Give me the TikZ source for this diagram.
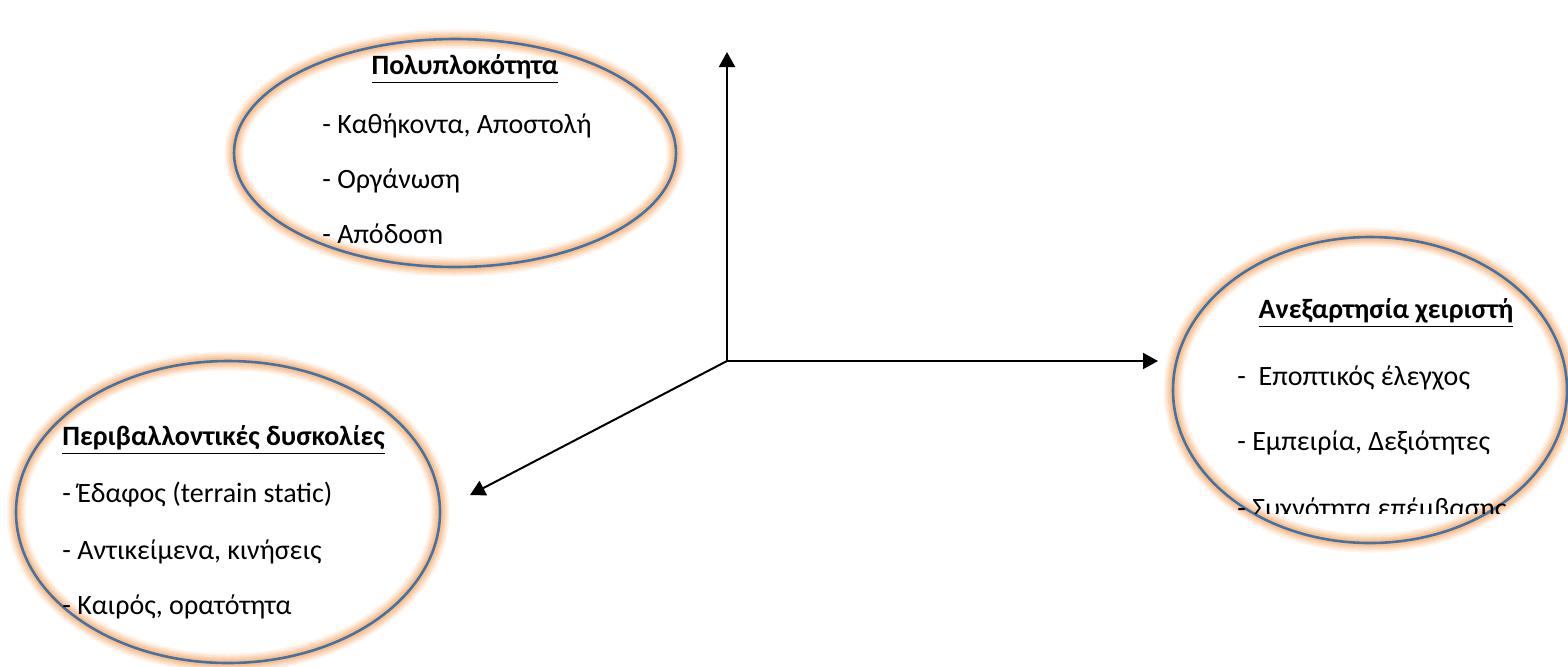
\documentclass[tikz,border=0pt]{standalone}
\usepackage{fontspec}
\setmainfont{Carlito}
\usetikzlibrary{arrows.meta,shapes.geometric}
\definecolor{rimblue}{HTML}{4272A6}
\definecolor{glow}{HTML}{F79646}

\tikzset{
  ring/.style={ellipse, inner sep=0pt, draw=rimblue, line width=1.3pt,
    preaction={draw=glow, line width=9.5pt, opacity=0.12},
    preaction={draw=glow, line width=7.5pt, opacity=0.16},
    preaction={draw=glow, line width=5.5pt, opacity=0.22},
    preaction={draw=glow, line width=3.5pt, opacity=0.28}},
  head/.style={font=\fontsize{14}{17}\selectfont\bfseries, inner sep=0pt},
  item/.style={font=\fontsize{14}{17}\selectfont, inner sep=0pt, anchor=west},
  axis/.style={line width=1pt, -{Triangle[length=7.5pt, width=8pt]}}
}

\begin{document}
\begin{tikzpicture}[x=0.5pt, y=-0.5pt]
\useasboundingbox (0,0) rectangle (1568,666);

% three glowing ellipses
\node[ring, minimum width=221pt, minimum height=114pt] (compl) at (455,153) {};
\node[ring, minimum width=197pt, minimum height=153pt] (indep) at (1370,390) {};
\node[ring, minimum width=212pt, minimum height=151pt] (envir) at (228,512) {};

% complexity
\node[head] (complT) at (465,69) {\underline{Πολυπλοκότητα}};
\begin{scope}
  \clip (0,0) rectangle (1568,243);
  \node[item] (compl1) at (322,126) {- Καθήκοντα, Αποστολή};
  \node[item] (compl2) at (322,181) {- Οργάνωση};
  \node[item] (compl3) at (322,236) {- Απόδοση};
\end{scope}

% operator independence
\node[head] (indepT) at (1386,313) {\underline{Ανεξαρτησία χειριστή}};
\begin{scope}
  \clip (0,0) rectangle (1507,513);
  \node[item] (indep1) at (1237,378) {-\ \ Εποπτικός έλεγχος};
  \node[item] (indep2) at (1237,443) {- Εμπειρία, Δεξιότητες};
  \node[item] (indep3) at (1237,510) {- Συχνότητα επέμβασης};
\end{scope}

% environmental difficulty
\node[head, anchor=west] (envirT) at (62,440) {\underline{Περιβαλλοντικές δυσκολίες}};
\node[item] (envir1) at (62,495) {- Έδαφος (terrain static)};
\node[item] (envir2) at (62,552) {- Αντικείμενα, κινήσεις};
\node[item] (envir3) at (62,607) {- Καιρός, ορατότητα};

% axes
\coordinate (o) at (727,361);
\coordinate (up) at (727,52);
\coordinate (right) at (1158,361);
\coordinate (diag) at (470,495);
\draw[axis] (o) -- (up);
\draw[axis] (o) -- (right);
\draw[axis] (o) -- (diag);
\end{tikzpicture}
\end{document}
